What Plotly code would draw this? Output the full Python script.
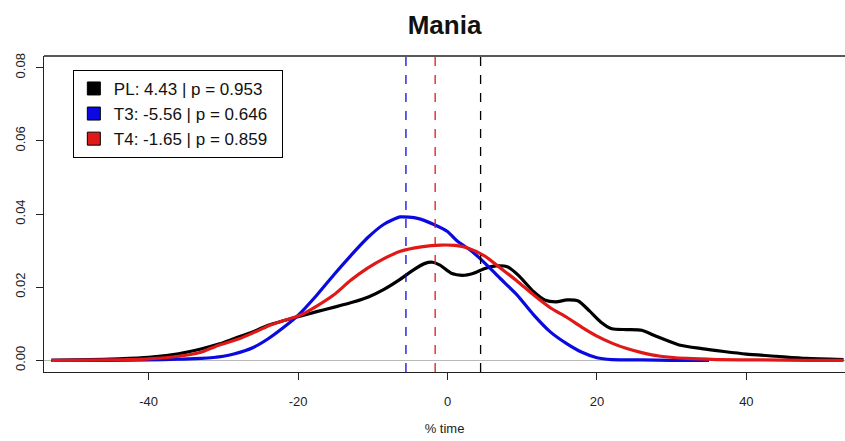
import plotly.graph_objects as go

# ---- data ----
title = "Mania"
x_label = "% time"
series_names = ["PL", "T3", "T4"]
series_means = [4.43, -5.56, -1.65]
series_p = [0.953, 0.646, 0.859]
series_colors = ["#000000", "#0a0ae0", "#e01818"]

pl_x = [-53, -48, -44, -40, -36, -33, -30.5, -28.6, -26, -24, -22, -20, -17.5, -15, -12.5,
        -10.5, -8.5, -6.3, -4.5, -3, -2, -1, 0.5, 2, 3.5, 5, 6.5, 8, 9.5, 11.5, 13, 14.5,
        16, 17.5, 19, 20.5, 22, 24, 26, 28, 31, 34, 37, 40, 44, 48, 53]
pl_y = [0.0, 0.0002, 0.0004, 0.0008, 0.0018, 0.0031, 0.0045, 0.0059, 0.0078, 0.0096, 0.0108,
        0.0119, 0.0133, 0.0146, 0.016, 0.0174, 0.0194, 0.0222, 0.0248, 0.0265, 0.0268, 0.026,
        0.0238, 0.0232, 0.0238, 0.0251, 0.0258, 0.0256, 0.0232, 0.0188, 0.0165, 0.016, 0.0165,
        0.0162, 0.0135, 0.0105, 0.0086, 0.0084, 0.0082, 0.0065, 0.0042, 0.0032, 0.0024,
        0.0017, 0.0011, 0.0005, 0.0002]

t3_x = [-53, -45, -40, -36, -33, -30, -28.6, -26, -24, -22, -20, -17.5, -15.2, -13, -10.7,
        -8.5, -6.3, -4, -1.9, 0, 1.3, 3, 4.8, 7, 9.3, 11.5, 13.8, 16, 18, 20, 22, 26, 30, 35]
t3_y = [0.0, 0.0, 0.0001, 0.0003, 0.0005, 0.0011, 0.0017, 0.0035, 0.0059, 0.0089, 0.0123,
        0.0178, 0.0234, 0.0285, 0.0335, 0.0372, 0.0392, 0.0388, 0.0372, 0.0352, 0.0326,
        0.0302, 0.027, 0.0225, 0.0179, 0.0125, 0.0077, 0.0045, 0.0022, 0.0007, 0.0002,
        0.0001, 0.0, 0.0]

t4_x = [-53, -45, -40, -36, -33, -30.8, -28, -26, -24, -22, -19.7, -17.5, -15.2, -13, -10.7,
        -8.5, -6.3, -3.5, -0.9, 1, 2.7, 5, 7.1, 9.3, 11.5, 13.8, 16, 18, 20, 22, 24, 26,
        28.5, 32, 36, 42, 48, 53]
t4_y = [0.0, 0.0001, 0.0004, 0.0011, 0.0022, 0.004, 0.0058, 0.0075, 0.0094, 0.0108, 0.0123,
        0.0148, 0.0179, 0.0218, 0.0252, 0.0278, 0.0298, 0.031, 0.0315, 0.0314, 0.0307,
        0.0285, 0.0252, 0.0217, 0.0179, 0.0143, 0.0117, 0.009, 0.0066, 0.0047, 0.0032,
        0.0021, 0.0011, 0.0005, 0.0002, 0.0001, 0.0, 0.0]

x_ticks = [-40, -20, 0, 20, 40]
y_ticks = [0.0, 0.02, 0.04, 0.06, 0.08]

FONT = "Liberation Sans, Arial, sans-serif"

xs = [pl_x, t3_x, t4_x]
ys = [pl_y, t3_y, t4_y]

fig = go.Figure()
for name, xv, yv, col in zip(series_names, xs, ys, series_colors):
    fig.add_trace(go.Scatter(x=xv, y=yv, mode="lines", name=name, showlegend=False,
                             line=dict(color=col, width=3.2, shape="spline", smoothing=0.6),
                             hoverinfo="skip"))

# legend entries (square swatches)
for name, m, p, col in zip(series_names, series_means, series_p, series_colors):
    fig.add_trace(go.Scatter(x=[None], y=[None], mode="markers",
                             name=f"{name}: {m:.2f} | p = {p:.3f}\u00a0\u00a0",
                             marker=dict(symbol="square", size=13, color=col,
                                         line=dict(color="#000000", width=1))))

shapes = []
for m, col in zip(series_means, series_colors):
    shapes.append(dict(type="line", xref="x", yref="paper", x0=m, x1=m, y0=0, y1=1,
                       line=dict(color=col, width=1.3, dash="dash"), layer="above"))
# top border of the box
shapes.append(dict(type="line", xref="paper", yref="paper", x0=0, x1=1, y0=1, y1=1,
                   line=dict(color="#222222", width=1.3)))

fig.update_layout(
    width=845, height=441,
    margin=dict(l=44, r=0, t=56, b=69),
    paper_bgcolor="white", plot_bgcolor="white",
    title=dict(text=f"<b>{title}</b>", x=0.5, xref="paper", xanchor="center",
               y=1 - 25 / 441, yref="container", yanchor="middle",
               font=dict(family=FONT, size=26, color="#111111")),
    font=dict(family=FONT, size=13, color="#222222"),
    showlegend=True,
    legend=dict(x=0.036, y=0.956, xanchor="left", yanchor="top",
                bordercolor="#000000", borderwidth=1, bgcolor="white",
                font=dict(family=FONT, size=17, color="#111111"),
                itemsizing="trace", tracegroupgap=0),
    shapes=shapes,
)

fig.update_xaxes(range=[-54, 53.2], tickvals=x_ticks, ticktext=[str(v) for v in x_ticks],
                 showgrid=False, zeroline=False, showline=True, linecolor="#222222",
                 linewidth=1.3, ticks="outside", ticklen=7, tickwidth=1.2,
                 tickcolor="#222222", ticklabelstandoff=10,
                 title=dict(text=x_label, standoff=16, font=dict(size=13)))
fig.update_yaxes(range=[-0.0032, 0.0832], tickvals=y_ticks,
                 ticktext=[f"{v:.2f}" for v in y_ticks], tickangle=-90,
                 showgrid=False, zeroline=True, zerolinecolor="#b8b8b8", zerolinewidth=1,
                 showline=True, linecolor="#222222", linewidth=1.3,
                 ticks="outside", ticklen=7, tickwidth=1.2, tickcolor="#222222",
                 ticklabelstandoff=6)

fig.write_html("out.html")
